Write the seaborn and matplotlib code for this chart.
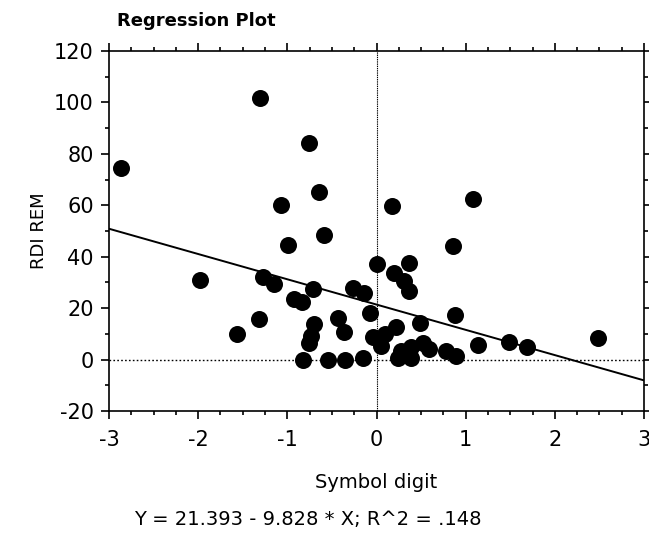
import numpy as np
import pandas as pd
import seaborn as sns
import matplotlib
matplotlib.use("Agg")
import matplotlib.pyplot as plt
from matplotlib.ticker import MultipleLocator

# Symbol digit score vs. RDI during REM sleep
symbol_digit = [-2.86, -1.98, -1.56, -1.32, -1.31, -1.27, -1.15, -1.07, -0.99, -0.93,
                -0.84, -0.82, -0.76, -0.76, -0.73, -0.71, -0.70, -0.65, -0.59, -0.54,
                -0.43, -0.36, -0.35, -0.26, -0.15, -0.14, -0.07, -0.04, 0.01, 0.05,
                0.09, 0.17, 0.20, 0.22, 0.24, 0.28, 0.31, 0.36, 0.36, 0.39,
                0.39, 0.49, 0.52, 0.59, 0.78, 0.86, 0.88, 0.89, 1.08, 1.14,
                1.49, 1.69, 2.48]
rdi_rem = [74.4, 31.1, 9.8, 15.7, 101.6, 32.3, 29.3, 60.1, 44.6, 23.5,
           22.2, 0.0, 84.1, 6.6, 9.2, 27.6, 14.0, 65.0, 48.3, 0.0,
           16.1, 10.9, 0.0, 27.7, 0.5, 25.8, 18.0, 8.9, 37.1, 5.3,
           9.8, 59.7, 33.6, 12.8, 0.8, 3.4, 30.6, 37.5, 26.7, 4.7,
           0.8, 14.4, 6.6, 4.0, 3.4, 44.2, 17.2, 1.4, 62.3, 5.7,
           6.8, 4.9, 8.2]

# Fitted regression coefficients
intercept = 21.393
slope = -9.828
r_squared = 0.148

x_ticks = [-3, -2, -1, 0, 1, 2, 3]
y_ticks = [-20, 0, 20, 40, 60, 80, 100, 120]

df = pd.DataFrame({"Symbol digit": symbol_digit, "RDI REM": rdi_rem})
fit_x = np.array([x_ticks[0], x_ticks[-1]], dtype=float)
fit = pd.DataFrame({"x": fit_x, "y": intercept + slope * fit_x})

sns.set_theme(style="ticks")
plt.rcParams["font.family"] = ["DejaVu Sans"]
plt.rcParams["axes.unicode_minus"] = False
plt.rcParams["text.color"] = "black"
plt.rcParams["axes.labelcolor"] = "black"
plt.rcParams["xtick.color"] = "black"
plt.rcParams["ytick.color"] = "black"

fig = plt.figure(figsize=(6.49, 5.33), dpi=100)
ax = fig.add_axes([109 / 649, 1 - 411 / 533, (644 - 109) / 649, (411 - 51) / 533])

# reference lines through the origin
ax.axhline(0, color="black", linestyle=(0, (1.2, 1.6)), linewidth=1.0, zorder=1)
ax.axvline(0, color="black", linestyle=(0, (1.2, 0.8)), linewidth=0.8, zorder=1)

sns.lineplot(data=fit, x="x", y="y", color="black", linewidth=1.4, ax=ax, zorder=2)
sns.scatterplot(data=df, x="Symbol digit", y="RDI REM", color="black", s=150,
                edgecolor="black", linewidth=0, ax=ax, zorder=3)

ax.set_xlim(x_ticks[0], x_ticks[-1])
ax.set_ylim(y_ticks[0], y_ticks[-1])
ax.set_xticks(x_ticks)
ax.set_yticks(y_ticks)
ax.xaxis.set_minor_locator(MultipleLocator(0.25))
ax.yaxis.set_minor_locator(MultipleLocator(10))
ax.tick_params(which="both", direction="out", top=True, right=True,
               width=1.2, color="black", labelcolor="black")
ax.tick_params(which="major", length=6, labelsize=15)
ax.tick_params(axis="x", which="major", pad=8)
ax.tick_params(axis="y", which="major", pad=5)
ax.tick_params(which="minor", length=3)
for s in ax.spines.values():
    s.set_visible(True)
    s.set_linewidth(1.2)
    s.set_color("black")

ax.set_xlabel("Symbol digit", fontsize=14, labelpad=16)
ax.set_ylabel("RDI REM", fontsize=13, labelpad=4)
ax.set_title("Regression Plot", fontsize=13, fontweight="bold", loc="left",
             x=0.015, pad=18)

fig.text(0.475, 0.008, f"Y = {intercept:.3f} - {abs(slope):.3f} * X; R^2 = {str(r_squared)[1:]}",
         ha="center", va="bottom", fontsize=14)

fig.savefig("out.png", dpi=100)
